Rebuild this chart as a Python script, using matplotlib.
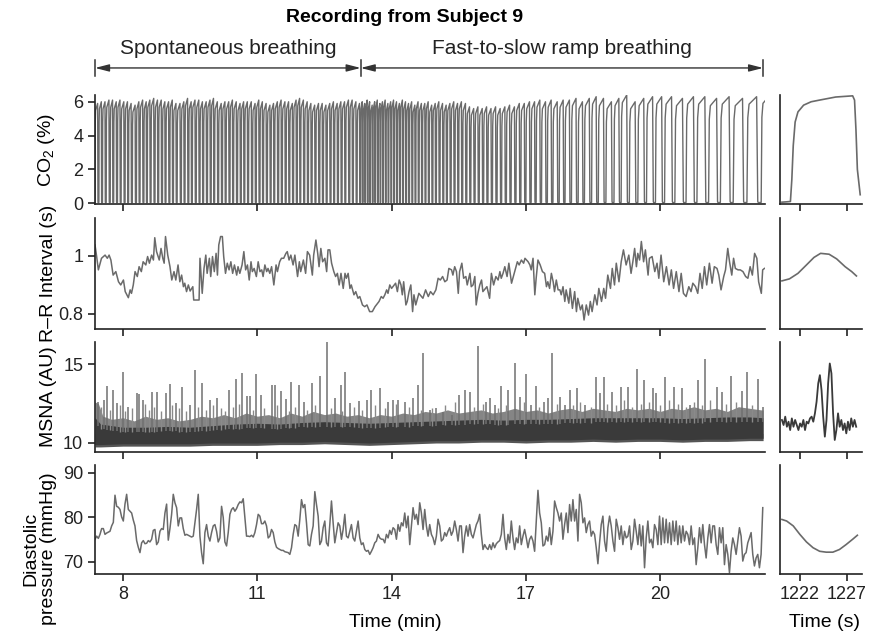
import numpy as np
import matplotlib.pyplot as plt
from matplotlib.transforms import blended_transform_factory

plt.rcParams['font.family'] = ['Liberation Sans', 'DejaVu Sans']
plt.rcParams['mathtext.default'] = 'regular'

# ---------------- data ----------------
t_start = 7.375          # min, first sample of the main traces
t_stop = 22.34           # min, right end of the main axes

phase_edges = [7.375, 13.31, 22.30]
phase_names = ['Spontaneous breathing', 'Fast-to-slow ramp breathing']

# CO2: length (s) and end-tidal peak (%) of every breath
spont_breath_s = [5.2, 4.8, 5.0, 5.4, 4.6, 5.1, 4.9, 5.3, 4.7, 5.0,
                  5.5, 4.8, 5.2, 4.6, 5.0, 5.3, 4.9, 5.1, 4.7, 5.2,
                  4.8, 5.0, 5.6, 4.9, 5.1, 4.7, 5.3, 5.0, 4.8, 5.2,
                  5.0, 4.6, 5.4, 5.1, 4.9, 5.2, 4.8, 5.3, 5.0, 4.7,
                  5.1, 5.4, 4.9, 5.0, 4.7, 5.2, 5.0, 4.8, 5.3, 4.9,
                  5.2, 4.8, 5.1, 5.0, 4.6, 5.3, 5.0, 4.9, 5.2, 5.1,
                  4.9, 5.0, 5.2, 4.8, 5.1, 4.9, 5.0, 5.3, 4.8, 5.1, 4.7]
spont_peak = [5.9, 6.0, 6.0, 6.1, 6.1, 6.0, 6.1, 6.0, 6.0, 5.9,
              5.8, 6.0, 6.1, 6.0, 6.1, 6.2, 6.1, 6.1, 6.0, 6.0,
              6.1, 5.9, 5.9, 6.0, 6.2, 6.0, 6.1, 6.1, 6.0, 6.0,
              6.1, 6.2, 6.0, 5.9, 6.0, 6.0, 6.1, 6.0, 5.9, 6.0,
              6.0, 6.0, 5.9, 6.1, 6.0, 5.9, 5.8, 5.9, 6.0, 6.1,
              6.0, 6.0, 5.9, 6.1, 6.2, 6.1, 6.0, 5.9, 5.8, 5.9,
              5.9, 5.8, 5.9, 6.0, 5.9, 6.0, 6.0, 6.1, 6.1, 6.0, 5.9]
ramp_breath_s = [3.2, 3.3, 3.4, 3.2, 3.5, 3.3, 3.6, 3.4, 3.5, 3.7, 3.6, 3.8,
                 3.9, 4.0, 3.8, 4.1, 4.2, 4.0, 4.3, 4.2, 4.4, 4.5,
                 4.6, 4.5, 4.8, 4.7, 4.9, 5.0, 4.8, 5.1, 5.2, 5.0,
                 5.3, 5.5, 5.4, 5.7, 5.6, 5.9, 5.8, 6.0,
                 6.2, 6.1, 6.4, 6.3, 6.6, 6.5,
                 6.8, 7.0, 6.7, 7.2, 7.8, 7.5, 8.4, 7.8,
                 8.6, 9.0, 8.4, 9.6, 9.0, 10.2, 10.8, 9.6,
                 11.0, 11.4, 11.6, 12.0, 12.2,
                 13.8, 15.0, 14.6, 15.6, 15.8,
                 17.2, 18.4, 19.1, 16.0]
ramp_peak = [6.0, 5.9, 6.1, 6.0, 5.8, 6.0, 6.1, 5.9, 6.0, 6.1, 5.9, 6.0,
             6.1, 6.0, 5.9, 6.1, 6.0, 5.9, 6.0, 5.8, 6.0, 5.9,
             5.9, 6.0, 5.8, 5.9, 6.0, 5.9, 5.8, 5.9, 6.0, 5.9,
             6.0, 5.9, 5.7, 5.6, 5.7, 5.6, 5.7, 5.6,
             5.7, 5.6, 5.7, 5.8, 5.7, 5.9,
             5.9, 6.0, 6.0, 6.1, 6.0, 6.1, 6.0, 6.1,
             6.1, 6.2, 6.0, 6.2, 6.3, 6.2, 6.0, 6.2,
             6.4, 6.0, 6.2, 6.3, 6.3,
             6.3, 6.2, 6.3, 6.3, 6.2,
             6.3, 6.2, 6.3, 6.35]

# R-R interval (min, s)
rr_points = [
    (7.375, 1.038), (7.41, 1.000), (7.45, 0.952), (7.52, 0.992), (7.60, 1.003), (7.65, 0.992),
    (7.69, 1.003), (7.73, 0.986), (7.78, 0.934), (7.84, 0.946), (7.90, 0.911), (7.95, 0.900),
    (8.01, 0.917), (8.05, 0.877), (8.12, 0.856), (8.16, 0.883), (8.19, 0.871), (8.23, 0.900),
    (8.27, 0.946), (8.32, 0.929), (8.36, 0.963), (8.41, 0.946), (8.45, 0.980), (8.51, 0.969),
    (8.55, 0.998), (8.59, 0.975), (8.64, 1.003), (8.68, 0.986), (8.71, 1.063), (8.75, 1.015),
    (8.81, 0.986), (8.85, 1.026), (8.89, 0.992), (8.92, 0.975), (8.95, 1.067), (9.00, 1.003),
    (9.05, 0.963), (9.09, 0.917), (9.14, 0.946), (9.18, 0.917), (9.23, 0.969), (9.27, 0.911),
    (9.31, 0.934), (9.35, 0.894), (9.38, 0.906), (9.42, 0.877), (9.46, 0.900), (9.50, 0.879),
    (9.56, 0.894), (9.58, 0.848), (9.70, 0.848), (9.72, 0.992), (9.77, 0.871), (9.81, 0.957),
    (9.85, 1.003), (9.88, 0.940), (9.93, 0.992), (9.96, 0.929), (10.00, 0.998), (10.04, 0.946),
    (10.08, 1.009), (10.11, 0.934), (10.14, 1.038), (10.18, 1.067), (10.22, 1.067), (10.25, 0.998),
    (10.29, 0.940), (10.33, 0.975), (10.37, 0.952), (10.41, 0.980), (10.45, 0.940), (10.49, 0.969),
    (10.54, 0.934), (10.57, 0.963), (10.61, 0.940), (10.66, 0.969), (10.70, 1.015), (10.74, 0.952),
    (10.78, 0.969), (10.82, 0.917), (10.86, 0.980), (10.89, 0.946), (10.93, 0.957), (10.98, 0.929),
    (11.02, 0.980), (11.06, 0.946), (11.10, 0.952), (11.13, 0.929), (11.17, 0.969), (11.21, 0.946),
    (11.24, 0.957), (11.28, 0.940), (11.32, 0.963), (11.37, 0.900), (11.42, 0.969), (11.45, 0.946),
    (11.50, 0.980), (11.54, 0.992), (11.59, 0.992), (11.64, 1.009), (11.67, 1.015), (11.71, 0.986),
    (11.75, 1.003), (11.80, 0.969), (11.84, 1.003), (11.90, 0.929), (11.94, 0.980), (11.97, 0.946),
    (12.03, 0.986), (12.08, 0.940), (12.12, 1.015), (12.17, 1.003), (12.23, 0.934), (12.26, 1.003),
    (12.31, 1.055), (12.35, 1.009), (12.38, 0.963), (12.42, 1.026), (12.46, 0.980), (12.51, 0.992),
    (12.55, 0.946), (12.58, 1.021), (12.62, 1.021), (12.66, 0.975), (12.71, 0.946), (12.75, 0.929),
    (12.79, 0.940), (12.83, 0.900), (12.87, 0.940), (12.92, 0.888), (12.96, 0.940), (12.99, 0.923),
    (13.03, 0.940), (13.07, 0.888), (13.10, 0.900), (13.16, 0.866), (13.20, 0.877), (13.25, 0.854),
    (13.29, 0.860), (13.35, 0.831), (13.40, 0.825), (13.45, 0.831), (13.51, 0.808), (13.57, 0.808),
    (13.63, 0.825), (13.66, 0.831), (13.72, 0.843), (13.77, 0.860), (13.81, 0.854), (13.85, 0.866),
    (13.89, 0.883), (13.92, 0.871), (13.96, 0.900), (14.00, 0.888), (14.03, 0.894), (14.09, 0.906),
    (14.13, 0.877), (14.17, 0.917), (14.21, 0.900), (14.24, 0.866), (14.27, 0.911), (14.32, 0.831),
    (14.35, 0.843), (14.39, 0.877), (14.43, 0.900), (14.47, 0.808), (14.50, 0.866), (14.54, 0.831),
    (14.57, 0.848), (14.61, 0.871), (14.70, 0.854), (14.76, 0.883), (14.82, 0.860), (14.87, 0.877),
    (14.93, 0.866), (14.99, 0.883), (15.04, 0.923), (15.09, 0.917), (15.14, 0.929), (15.19, 0.911),
    (15.24, 0.917), (15.28, 0.957), (15.34, 0.952), (15.37, 0.934), (15.41, 0.963), (15.45, 0.946),
    (15.49, 0.871), (15.52, 0.946), (15.57, 0.975), (15.61, 0.923), (15.66, 0.929), (15.69, 0.900),
    (15.75, 0.940), (15.78, 0.894), (15.82, 0.900), (15.86, 0.929), (15.89, 0.831), (15.93, 0.871),
    (15.97, 0.900), (16.01, 0.917), (16.04, 0.877), (16.10, 0.888), (16.13, 0.894), (16.19, 0.854),
    (16.23, 0.940), (16.28, 0.900), (16.33, 0.929), (16.38, 0.917), (16.42, 0.946), (16.45, 0.923),
    (16.49, 0.940), (16.53, 0.963), (16.58, 0.929), (16.62, 0.975), (16.68, 0.906), (16.73, 0.934),
    (16.77, 0.957), (16.81, 0.980), (16.85, 0.969), (16.90, 0.986), (16.95, 0.975), (16.98, 0.992),
    (17.05, 0.980), (17.09, 0.969), (17.12, 0.952), (17.16, 0.992), (17.20, 0.866), (17.23, 0.923),
    (17.27, 0.986), (17.32, 0.969), (17.37, 0.946), (17.42, 0.940), (17.46, 0.894), (17.49, 0.911),
    (17.53, 0.888), (17.57, 0.940), (17.61, 0.911), (17.64, 0.877), (17.68, 0.917), (17.72, 0.883),
    (17.76, 0.883), (17.79, 0.866), (17.83, 0.894), (17.87, 0.843), (17.90, 0.883), (17.96, 0.837),
    (17.99, 0.888), (18.04, 0.819), (18.09, 0.877), (18.13, 0.808), (18.16, 0.854), (18.22, 0.814),
    (18.26, 0.831), (18.30, 0.779), (18.35, 0.831), (18.40, 0.796), (18.44, 0.843), (18.48, 0.808),
    (18.54, 0.866), (18.59, 0.831), (18.63, 0.888), (18.69, 0.843), (18.74, 0.888), (18.78, 0.854),
    (18.83, 0.934), (18.89, 0.888), (18.93, 0.957), (18.98, 0.900), (19.02, 0.975), (19.08, 0.911),
    (19.13, 0.980), (19.18, 1.021), (19.24, 0.969), (19.30, 1.003), (19.35, 0.940), (19.39, 0.980),
    (19.43, 1.026), (19.47, 0.963), (19.50, 1.009), (19.54, 0.986), (19.58, 1.050), (19.63, 0.980),
    (19.67, 1.021), (19.73, 0.934), (19.76, 0.992), (19.82, 0.998), (19.88, 0.946), (19.93, 0.975),
    (19.97, 0.923), (20.02, 1.003), (20.08, 0.911), (20.14, 0.963), (20.20, 0.900), (20.25, 0.952),
    (20.30, 0.888), (20.36, 0.946), (20.42, 0.877), (20.47, 0.940), (20.52, 0.871), (20.58, 0.860),
    (20.64, 0.894), (20.69, 0.877), (20.73, 0.906), (20.79, 0.894), (20.84, 0.871), (20.89, 0.940),
    (20.94, 0.888), (20.99, 0.963), (21.04, 0.900), (21.10, 0.975), (21.16, 0.906), (21.21, 0.963),
    (21.27, 0.957), (21.31, 0.934), (21.36, 0.883), (21.42, 0.929), (21.46, 0.952), (21.51, 1.026),
    (21.55, 0.980), (21.60, 0.934), (21.64, 0.992), (21.68, 0.957), (21.74, 0.952), (21.79, 0.952),
    (21.85, 0.946), (21.91, 0.929), (21.96, 0.923), (22.01, 0.963), (22.06, 0.934), (22.11, 1.009),
    (22.16, 0.992), (22.20, 0.911), (22.26, 0.871), (22.29, 0.952), (22.33, 0.957),
]

# MSNA: band of the raw trace (envelopes) and burst peaks
msna_env_t = [7.375, 7.5, 8.0, 8.5, 9.0, 9.5, 10.0, 10.5, 11.0, 11.5, 12.0, 12.5, 13.0, 13.5, 14.0, 14.5,
              15.0, 15.5, 16.0, 16.5, 17.0, 17.5, 18.0, 18.5, 19.0, 19.5, 20.0, 20.5, 21.0, 21.5, 22.0, 22.3]
msna_core_lo = [9.9, 9.9, 9.95, 9.95, 9.95, 9.95, 10.0, 10.0, 10.0, 10.05, 10.05, 10.1, 10.05, 10.0, 10.05, 10.1,
                10.15, 10.15, 10.2, 10.2, 10.15, 10.2, 10.2, 10.25, 10.2, 10.25, 10.25, 10.2, 10.25, 10.25, 10.3, 10.3]
msna_core_hi = [11.6, 11.2, 11.0, 11.0, 11.05, 11.0, 11.1, 11.2, 11.25, 11.2, 11.3, 11.35, 11.3, 11.25, 11.3, 11.35,
                11.4, 11.45, 11.5, 11.45, 11.5, 11.5, 11.55, 11.6, 11.6, 11.6, 11.6, 11.55, 11.6, 11.65, 11.65, 11.6]
msna_low_fringe = [9.75, 9.75, 9.8, 9.8, 9.8, 9.8, 9.85, 9.85, 9.85, 9.9, 9.9, 9.95, 9.9, 9.85, 9.9, 9.95,
                   10.0, 10.0, 10.05, 10.05, 10.0, 10.05, 10.05, 10.1, 10.05, 10.1, 10.1, 10.05, 10.1, 10.1, 10.15, 10.15]
msna_fringe_t = [7.375, 7.45, 7.55, 7.75, 8.0, 8.25, 8.5, 8.75, 9.0, 9.25, 9.5, 9.75, 10.0, 10.25, 10.5, 10.75,
                 11.0, 11.25, 11.5, 11.75, 12.0, 12.25, 12.5, 12.75, 13.0, 13.25, 13.5, 13.75, 14.0, 14.25, 14.5,
                 14.75, 15.0, 15.25, 15.5, 15.75, 16.0, 16.25, 16.5, 16.75, 17.0, 17.25, 17.5, 17.75, 18.0, 18.25,
                 18.5, 18.75, 19.0, 19.25, 19.5, 19.75, 20.0, 20.25, 20.5, 20.75, 21.0, 21.25, 21.5, 21.75, 22.0,
                 22.25, 22.3]
msna_high_fringe = [12.6, 12.5, 11.7, 11.5, 11.6, 11.4, 11.7, 11.5, 11.6, 11.4,
                    11.5, 11.7, 11.6, 11.8, 11.6, 11.9, 11.7, 11.8, 11.6, 11.9,
                    11.7, 12.0, 11.8, 11.9, 11.7, 11.8, 11.6, 11.8, 11.7, 11.9,
                    11.8, 12.0, 11.9, 12.1, 11.9, 12.0, 12.1, 11.9, 12.0, 12.2,
                    12.0, 12.1, 11.9, 12.1, 12.2, 12.0, 12.2, 12.1, 12.0, 12.2,
                    12.1, 12.2, 12.0, 12.2, 12.1, 12.3, 12.1, 12.2, 12.0, 12.3,
                    12.2, 12.1, 12.1]
msna_burst_t = [7.45, 7.58, 7.65, 7.78, 7.87, 7.99, 8.12, 8.31, 8.36, 8.45,
                8.64, 8.77, 8.97, 9.05, 9.18, 9.32, 9.50, 9.61, 9.76, 9.94,
                10.11, 10.36, 10.53, 10.66, 10.78, 10.83, 10.97, 11.08, 11.34, 11.39,
                11.54, 11.64, 11.76, 11.93, 12.04, 12.23, 12.40, 12.55, 12.73, 12.86,
                12.96, 13.07, 13.28, 13.44, 13.55, 13.75, 13.92, 14.03, 14.15, 14.29,
                14.48, 14.59, 14.70, 14.85, 15.00, 15.15, 15.34, 15.51, 15.63, 15.75,
                15.93, 16.12, 16.21, 16.30, 16.45, 16.60, 16.75, 16.88, 17.00, 17.12,
                17.22, 17.40, 17.49, 17.59, 17.76, 17.87, 17.99, 18.14, 18.31, 18.57,
                18.65, 18.74, 18.93, 19.12, 19.28, 19.48, 19.65, 19.84, 19.91, 20.10,
                20.30, 20.49, 20.66, 20.84, 21.01, 21.27, 21.39, 21.59, 21.83, 21.94,
                22.18, 22.29]
msna_burst_v = [12.62, 12.72, 13.61, 13.35, 12.51, 14.51, 12.30, 13.19, 13.10, 12.72,
                13.25, 13.25, 13.14, 13.71, 12.51, 13.52, 12.41, 14.62, 13.78, 12.72,
                12.83, 13.35, 14.03, 14.41, 12.97, 12.97, 14.35, 13.04, 13.67, 13.67,
                13.31, 12.76, 13.88, 13.67, 12.62, 13.78, 14.24, 16.46, 12.83, 13.67,
                14.51, 12.55, 12.68, 12.72, 13.35, 13.46, 12.62, 12.72, 12.72, 12.62,
                12.83, 13.67, 15.68, 12.09, 12.19, 11.98, 11.77, 13.04, 13.35, 13.25,
                16.14, 12.62, 12.83, 12.41, 13.61, 13.35, 15.04, 12.93, 14.35, 12.41,
                13.61, 12.62, 12.83, 15.68, 12.93, 12.41, 13.35, 13.46, 12.41, 14.20,
                13.14, 14.20, 13.25, 13.57, 13.57, 14.66, 13.99, 13.46, 13.14, 14.20,
                13.57, 13.46, 12.41, 13.99, 15.30, 13.57, 13.25, 14.24, 13.31, 14.51,
                14.03, 12.30]
msna_small_t = [7.52, 7.72, 7.93, 8.05, 8.2, 8.5, 8.58, 8.7, 8.85, 9.1,
                9.25, 9.4, 9.68, 9.85, 10.02, 10.2, 10.28, 10.45, 10.6, 10.9,
                11.15, 11.45, 11.7, 11.85, 12.1, 12.3, 12.65, 12.9, 13.15, 13.35,
                13.62, 13.85, 14.1, 14.38, 14.65, 14.9, 15.2, 15.42, 15.85, 16.05,
                16.38, 16.55, 16.95, 17.3, 17.7, 18.05, 18.22, 18.45, 18.82, 19.02,
                19.2, 19.38, 19.58, 19.75, 20.0, 20.2, 20.4, 20.58, 20.75, 20.93,
                21.12, 21.48, 21.7, 22.05]
msna_small_v = [12.3, 12.1, 12.4, 12.0, 12.2, 12.5, 12.1, 12.3, 12.0, 12.4,
                12.2, 12.0, 12.3, 12.1, 12.4, 12.2, 12.0, 12.3, 12.5, 12.1,
                12.2, 12.4, 12.0, 12.3, 12.1, 12.4, 12.2, 12.0, 12.3, 12.1,
                12.4, 12.2, 12.5, 12.3, 12.1, 12.2, 12.4, 12.6, 12.3, 12.5,
                12.2, 12.4, 12.6, 12.3, 12.5, 12.4, 12.6, 12.3, 12.5, 12.4,
                12.7, 12.3, 12.5, 12.6, 12.4, 12.7, 12.5, 12.3, 12.6, 12.4,
                12.7, 12.5, 12.6, 12.4]

# diastolic pressure (mmHg), one value every 2.232 s from t_start
dia_dt_s = 2.232
dia_val = [75.1, 75.8, 75.3, 76.2, 77.5, 77.5, 76.2, 76.5, 76.7, 76.9,
           78.1, 78.9, 85.0, 82.5, 82.3, 81.8, 80.1, 79.2, 83.0, 85.2,
           81.8, 81.4, 81.0, 79.4, 78.1, 74.8, 73.3, 72.1, 74.3, 74.8,
           74.1, 74.2, 74.8, 74.5, 75.1, 77.1, 77.3, 73.9, 74.5, 76.9,
           77.5, 77.3, 81.0, 83.0, 74.9, 77.5, 80.7, 85.2, 83.3, 82.2,
           78.1, 79.9, 79.9, 77.5, 76.0, 76.2, 76.0, 75.8, 75.6, 75.8,
           78.8, 81.8, 85.2, 75.8, 72.1, 69.6, 76.6, 78.4, 75.8, 74.7,
           76.6, 78.1, 78.4, 76.9, 74.5, 75.4, 82.5, 80.0, 74.5, 73.6,
           76.6, 80.7, 81.8, 82.2, 81.4, 82.0, 82.9, 83.5, 83.3, 84.2,
           79.9, 75.8, 75.8, 75.7, 76.0, 75.6, 76.6, 78.4, 80.7, 80.3,
           78.6, 78.6, 79.2, 78.1, 75.4, 75.8, 77.3, 76.6, 74.5, 73.3,
           73.0, 72.8, 72.6, 72.6, 72.3, 72.2, 72.1, 71.7, 73.2, 76.2,
           78.4, 78.1, 75.8, 79.6, 84.0, 82.2, 82.9, 78.8, 73.9, 73.6,
           76.2, 78.1, 85.8, 82.9, 80.3, 73.9, 74.7, 77.7, 79.2, 74.3,
           73.6, 78.4, 83.7, 78.8, 74.3, 76.6, 78.8, 78.1, 75.1, 77.3,
           80.7, 75.8, 75.4, 76.9, 78.4, 75.4, 74.7, 76.9, 79.2, 75.4,
           73.9, 74.3, 72.8, 72.4, 72.6, 71.7, 72.4, 73.2, 74.3, 74.7,
           76.2, 75.4, 75.1, 75.1, 74.3, 76.2, 75.4, 77.1, 76.2, 77.7,
           77.3, 75.1, 78.4, 76.9, 78.8, 78.1, 81.0, 77.7, 80.3, 73.9,
           78.1, 82.2, 79.6, 80.7, 78.4, 83.3, 81.0, 77.3, 81.8, 78.1,
           75.8, 78.4, 76.2, 75.4, 73.9, 75.8, 79.6, 78.1, 74.7, 75.1,
           76.6, 75.8, 76.9, 77.7,
           76.0, 76.9, 79.2, 77.3, 74.7, 78.1, 78.1, 72.1, 75.8, 78.1,
           75.8, 78.4, 76.2, 75.4, 76.9, 78.4, 79.2, 80.7, 76.2, 72.8,
           73.9, 73.2, 72.8, 73.9, 72.8, 74.3, 73.2, 74.1, 74.5, 74.8,
           76.2, 80.7, 75.4, 72.8, 76.2, 74.3, 79.2, 75.4, 72.8, 75.4,
           74.3, 78.1, 73.9, 75.8, 77.3, 75.4, 73.2, 75.1, 75.8, 74.7,
           72.4, 79.2, 86.1, 81.0, 78.8, 73.6, 73.9, 75.8, 74.7, 77.7,
           73.9, 76.9, 83.7, 82.2, 81.0, 79.2, 81.0, 75.1, 78.4, 81.0,
           76.6, 82.9, 79.2, 84.0, 79.2, 81.8, 74.7, 85.2, 83.3, 78.8,
           79.9, 76.6, 78.4, 79.2, 75.8, 76.9, 76.2, 73.2, 69.6, 74.3,
           78.4, 80.3, 74.7, 72.4, 77.7, 80.3, 78.1, 74.7, 72.4, 79.6,
           77.7, 75.1, 78.1, 73.9, 76.9, 75.4, 75.8, 78.1, 72.8, 74.7,
           79.6, 76.9, 73.9, 78.4, 73.6, 78.1, 68.7, 75.4, 79.2, 74.3,
           75.1, 73.2, 78.4, 77.3, 73.9, 80.3, 73.9, 79.9, 74.3, 79.6,
           74.3, 78.8, 73.9, 79.2, 74.7, 79.2, 73.9, 78.1, 74.3, 78.1,
           74.7, 76.9, 76.2, 73.9, 78.1, 73.9, 75.4, 69.4, 73.2, 77.7,
           74.3, 78.4, 73.9, 70.9, 75.4, 78.4, 74.3, 78.1, 78.1, 73.9,
           71.7, 77.7, 74.3, 77.7, 69.4, 73.9, 71.7, 67.6, 72.4, 75.4,
           73.9, 71.7, 74.7, 77.7, 75.8, 70.2, 71.7, 72.1, 74.3, 75.4,
           76.6, 71.7, 69.1, 70.9, 71.7, 68.7, 71.7, 82.2]

# right-hand close-up (time in s)
zoom_xlim = (1219.9, 1228.6)
co2_zoom_t = [1220.1, 1220.6, 1221.0, 1221.15, 1221.3, 1221.5, 1221.8, 1222.4,
              1223.2, 1224.1, 1225.8, 1227.6, 1227.8, 1227.95, 1228.1, 1228.4]
co2_zoom_v = [0.06, 0.08, 0.10, 1.4, 3.4, 4.8, 5.4, 5.8, 6.0, 6.1, 6.28, 6.35, 6.1, 4.35, 2.0, 0.5]
rr_zoom_t = [1220.1, 1220.9, 1221.8, 1222.7, 1223.5, 1224.2, 1225.1, 1225.9, 1226.8, 1227.5, 1228.0]
rr_zoom_v = [0.914, 0.921, 0.940, 0.969, 0.995, 1.009, 1.006, 0.990, 0.963, 0.946, 0.931]
msna_zoom_t0 = 1220.1
msna_zoom_dt = 0.175
msna_zoom_v = [11.46, 11.14, 11.67, 11.03, 11.35, 10.82, 11.56, 11.03, 11.46, 11.14,
               10.82, 11.24, 11.03, 11.46, 10.82, 11.35, 11.24, 11.56, 11.67, 11.35,
               11.88, 12.62, 13.78, 14.30, 13.35, 11.67, 10.40, 11.46, 13.78, 15.04,
               14.41, 11.88, 10.19, 10.82, 11.88, 11.03, 11.46, 10.82, 11.24, 10.61,
               11.35, 10.82, 11.56, 11.03, 11.46, 11.03]
dia_zoom_t = [1220.1, 1220.6, 1221.3, 1222.0, 1222.7, 1223.4, 1224.1, 1224.8, 1225.5, 1226.2,
              1226.9, 1227.6, 1228.1]
dia_zoom_v = [79.55, 79.2, 78.1, 76.2, 74.5, 73.2, 72.4, 72.2, 72.2, 72.8, 73.9, 75.1, 76.0]


# ---------------- helpers ----------------
def co2_trace(t0_min, periods, peaks):
    # square-ish capnogram: fast rise, slow plateau, fast fall, short zero phase
    t, v = [], []
    onset = t0_min * 60
    for T, p in zip(periods, peaks):
        t += [onset, onset + 0.06 * T, onset + 0.15 * T, onset + 0.68 * T,
              onset + 0.76 * T, onset + 0.80 * T]
        v += [0.05, 0.8 * p, 0.93 * p, p, 0.1, 0.03]
        onset += T
    return np.array(t) / 60, np.array(v), onset / 60


def style(ax):
    for s in ['top', 'right']:
        ax.spines[s].set_visible(False)
    for s in ['left', 'bottom']:
        ax.spines[s].set_linewidth(1.2)
        ax.spines[s].set_color('#222222')
    ax.tick_params(direction='out', length=5, width=1.2, colors='#222222', labelsize=13)


line_c = '#6a6a6a'
dark_c = '#3a3a3a'

fig = plt.figure(figsize=(8.7, 6.35), dpi=100)

main_l, main_w = 0.1092, 0.770
ins_l, ins_w = 0.8966, 0.0943
rows = [(0.6787, 0.1717), (0.4819, 0.1748), (0.2882, 0.1732), (0.0961, 0.1717)]

axes = []
for b, h in rows:
    am = fig.add_axes([main_l, b, main_w, h])
    ai = fig.add_axes([ins_l, b, ins_w, h], sharey=am)
    for a in (am, ai):
        style(a)
    am.set_xlim(t_start, t_stop)
    am.set_xticks([8, 11, 14, 17, 20])
    ai.set_xlim(*zoom_xlim)
    ai.set_xticks([1222, 1227])
    ai.tick_params(axis='y', left=False, labelleft=False)
    axes.append((am, ai))

# --- CO2 ---
am, ai = axes[0]
t1, v1, t_mid = co2_trace(t_start, spont_breath_s, spont_peak)
t2, v2, _ = co2_trace(t_mid, ramp_breath_s, ramp_peak)
am.plot(np.concatenate([t1, t2]), np.concatenate([v1, v2]), color=line_c, lw=1.0)
ai.plot(co2_zoom_t, co2_zoom_v, color=line_c, lw=1.2)
am.set_ylim(-0.05, 6.4)
am.set_yticks([0, 2, 4, 6])
am.set_ylabel('CO$_2$ (%)', fontsize=14)

# phase arrows above the CO2 panel
trans = blended_transform_factory(am.transData, am.transAxes)
for x in phase_edges:
    am.plot([x, x], [1.17, 1.32], transform=trans, color='#333333', lw=1.1, clip_on=False)
for i, name in enumerate(phase_names):
    x0, x1 = phase_edges[i], phase_edges[i + 1]
    am.annotate('', xy=(x0, 1.248), xytext=(x1, 1.248), xycoords=trans, textcoords=trans,
                arrowprops=dict(arrowstyle='<|-|>,head_length=0.7,head_width=0.18',
                                color='#333333', lw=1.0, shrinkA=0, shrinkB=0,
                                mutation_scale=12))
    am.text((x0 + x1) / 2, 1.43, name, transform=trans, ha='center', va='center',
            fontsize=15, color='#222222')

# --- R-R interval ---
am, ai = axes[1]
rr_t, rr_v = np.array(rr_points).T
am.plot(rr_t, rr_v, color=line_c, lw=1.1)
ai.plot(rr_zoom_t, rr_zoom_v, color=line_c, lw=1.2)
am.set_ylim(0.748, 1.131)
am.set_yticks([0.8, 1.0])
am.set_yticklabels(['0.8', '1'])
am.set_ylabel('R\u2013R Interval (s)', fontsize=14)

# --- MSNA ---
am, ai = axes[2]
am.fill_between(msna_fringe_t, 10.6, msna_high_fringe, color='#858585', lw=0)
am.fill_between(msna_env_t, msna_low_fringe, 10.6, color='#555555', lw=0)
am.fill_between(msna_env_t, msna_core_lo, msna_core_hi, color=dark_c, lw=0)
base_b = np.interp(msna_burst_t, msna_env_t, msna_core_hi) - 0.3
am.vlines(msna_burst_t, base_b, msna_burst_v, color='#707070', lw=1.1)
base_s = np.interp(msna_small_t, msna_env_t, msna_core_hi) - 0.3
am.vlines(msna_small_t, base_s, msna_small_v, color='#8a8a8a', lw=1.0)
mz_t = msna_zoom_t0 + np.arange(len(msna_zoom_v)) * msna_zoom_dt
ai.plot(mz_t, msna_zoom_v, color=dark_c, lw=1.3)
am.set_ylim(9.43, 16.4)
am.set_yticks([10, 15])
am.set_ylabel('MSNA (AU)', fontsize=14)

# --- diastolic pressure ---
am, ai = axes[3]
dia_t = t_start + np.arange(len(dia_val)) * dia_dt_s / 60
am.plot(dia_t, dia_val, color=line_c, lw=1.1)
ai.plot(dia_zoom_t, dia_zoom_v, color=line_c, lw=1.2)
am.set_ylim(67.3, 91.8)
am.set_yticks([70, 80, 90])
am.set_ylabel('Diastolic\npressure (mmHg)', fontsize=14, linespacing=1.05)

for i, (am, ai) in enumerate(axes):
    am.yaxis.set_label_coords(-0.057, 0.5 if i < 3 else 0.23)
    if i < 3:
        am.tick_params(axis='x', labelbottom=False)
        ai.tick_params(axis='x', labelbottom=False)

fig.text(0.4655, 0.973, 'Recording from Subject 9', ha='center', va='center',
         fontsize=14, weight='bold', family=['Liberation Sans Narrow', 'Liberation Sans', 'DejaVu Sans'])
fig.text(0.454, 0.019, 'Time (min)', ha='center', va='center', fontsize=14)
fig.text(0.948, 0.019, 'Time (s)', ha='center', va='center', fontsize=14)

fig.savefig('out.png', dpi=100)
